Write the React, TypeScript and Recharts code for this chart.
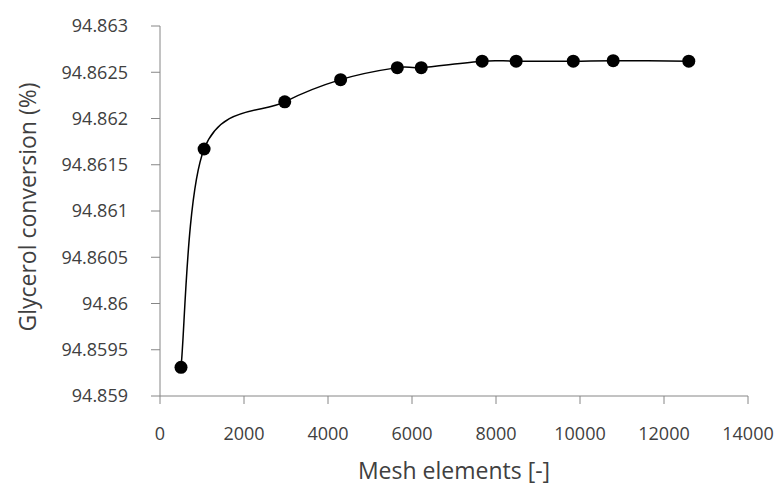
import React from 'react'
import { LineChart, Line, XAxis, YAxis } from 'recharts'

const meshElements = [500, 1050, 2970, 4300, 5650, 6220, 7670, 8480, 9840, 10790, 12590]
const conversion = [
  94.85931, 94.86167, 94.86218, 94.86242, 94.86255, 94.86255, 94.86262, 94.86262,
  94.86262, 94.862625, 94.86262,
]
const xTicks = [0, 2000, 4000, 6000, 8000, 10000, 12000, 14000]
const yTicks = [
  94.859, 94.8595, 94.86, 94.8605, 94.861, 94.8615, 94.862, 94.8625, 94.863,
]

const data = meshElements.map((x, i) => ({ x, y: conversion[i] }))

// Excel-like smoothed line (uniform Catmull-Rom through the points)
const smoothCurve = (context: any) => {
  let pts: [number, number][] = []
  return {
    areaStart() {},
    areaEnd() {},
    lineStart() {
      pts = []
    },
    point(x: number, y: number) {
      pts.push([+x, +y])
    },
    lineEnd() {
      if (!pts.length) return
      context.moveTo(pts[0][0], pts[0][1])
      for (let i = 0; i < pts.length - 1; i++) {
        const p0 = pts[Math.max(i - 1, 0)]
        const p1 = pts[i]
        const p2 = pts[i + 1]
        const p3 = pts[Math.min(i + 2, pts.length - 1)]
        context.bezierCurveTo(
          p1[0] + (p2[0] - p0[0]) / 6,
          p1[1] + (p2[1] - p0[1]) / 6,
          p2[0] - (p3[0] - p1[0]) / 6,
          p2[1] - (p3[1] - p1[1]) / 6,
          p2[0],
          p2[1]
        )
      }
    },
  }
}

const FONT = '"Open Sans", sans-serif'
const TEXT = '#404040'
const AXIS = '#868686'

const YTitle = (props: any) => {
  const { viewBox } = props
  const cx = 36
  const cy = viewBox.y + viewBox.height / 2 - 4
  return (
    <text
      x={cx}
      y={cy}
      transform={`rotate(-90, ${cx}, ${cy})`}
      textAnchor="middle"
      fontSize={23}
      fontFamily={FONT}
      fill={TEXT}
    >
      Glycerol conversion (%)
    </text>
  )
}

const XTitle = (props: any) => {
  const { viewBox } = props
  return (
    <text
      x={viewBox.x + viewBox.width / 2}
      y={viewBox.y + viewBox.height - 7}
      textAnchor="middle"
      fontSize={23}
      fontFamily={FONT}
      fill={TEXT}
    >
      Mesh elements [-]
    </text>
  )
}

export default function App() {
  return (
    <div style={{ position: 'absolute', left: 0, top: 0, background: '#fff' }}>
      <LineChart
        width={779}
        height={486}
        data={data}
        margin={{ top: 26, right: 31, left: 0, bottom: 0 }}
      >
        <XAxis
          dataKey="x"
          type="number"
          domain={[0, 14000]}
          ticks={xTicks}
          interval={0}
          height={90}
          stroke={AXIS}
          tickSize={8}
          tickMargin={23}
          tick={{ fill: TEXT, fontSize: 18, fontFamily: FONT }}
          label={<XTitle />}
        />
        <YAxis
          type="number"
          domain={[94.859, 94.863]}
          ticks={yTicks}
          interval={0}
          width={160}
          stroke={AXIS}
          tickSize={9}
          tickMargin={23}
          tickFormatter={(v: number) => String(v)}
          tick={{ fill: TEXT, fontSize: 18, fontFamily: FONT }}
          label={<YTitle />}
        />
        <Line
          dataKey="y"
          type={smoothCurve as any}
          stroke="#000"
          strokeWidth={1.5}
          dot={{ r: 6.5, fill: '#000', stroke: '#000', strokeWidth: 0 }}
          activeDot={false}
          isAnimationActive={false}
        />
      </LineChart>
    </div>
  )
}
